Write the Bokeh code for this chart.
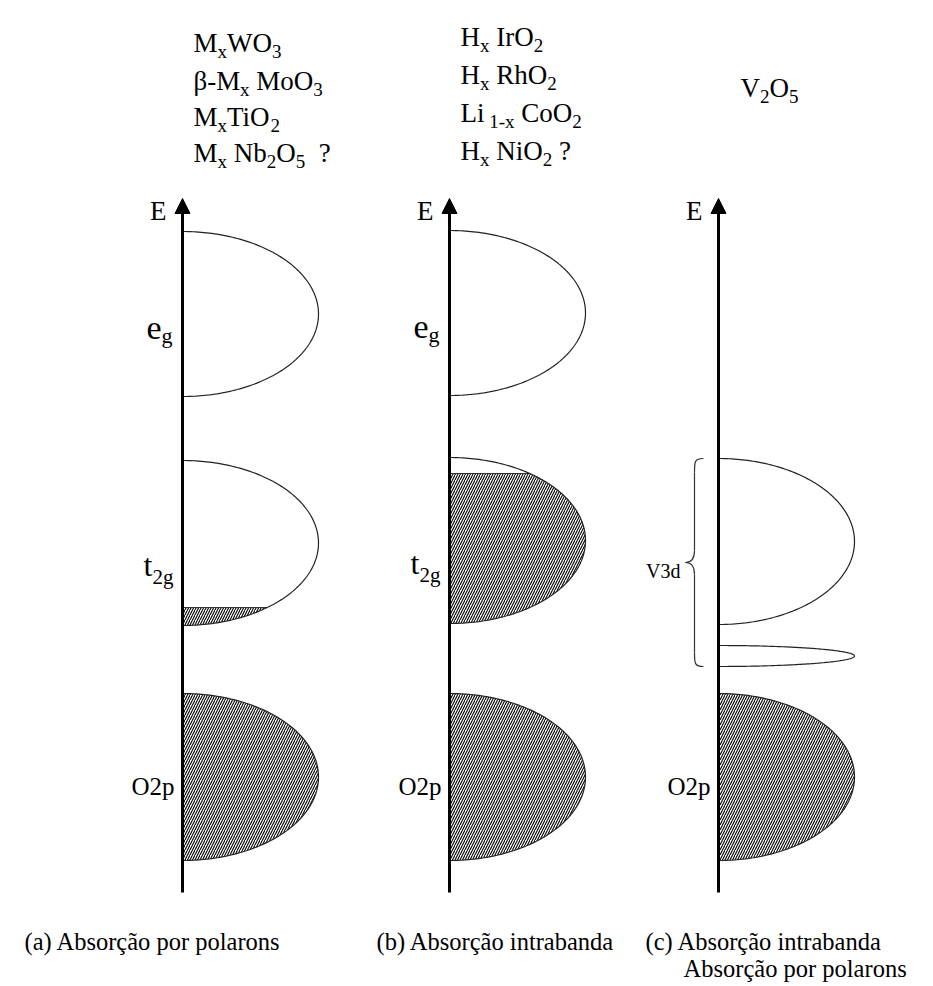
import numpy as np
from bokeh.plotting import figure
from bokeh.models import Range1d, Arrow, NormalHead
from bokeh.core.properties import value
from bokeh.embed import file_html
from bokeh.resources import INLINE

# ---- data: band edges on an energy scale (arbitrary units, up = higher E) ----
panels = ["a", "b", "c"]
axis_x = [182, 449, 718]

# (top, bottom) of each band per panel; None where the band is absent
eg_band = [(755, 590), (756, 591), None]
t2g_band = [(526, 361), (529, 363), (528, 362)]
polaron_band = [None, None, (341, 320)]
o2p_band = [(293, 126), (293, 126), (293, 126)]

# highest occupied level inside the t2g / V3d band (None = empty)
t2g_fill = [379, 513, None]

e_axis_bottom = 94
e_axis_top = 788

formulas = [
    [[("M", 0), ("x", 1), ("WO", 0), ("3", 1)],
     [("\u03b2-M", 0), ("x", 1), (" MoO", 0), ("3", 1)],
     [("M", 0), ("x", 1), ("TiO", 0), ("2", 1)],
     [("M", 0), ("x", 1), (" Nb", 0), ("2", 1), ("O", 0), ("5", 1), ("  ?", 0)]],
    [[("H", 0), ("x", 1), (" IrO", 0), ("2", 1)],
     [("H", 0), ("x", 1), (" RhO", 0), ("2", 1)],
     [("Li", 0), (" 1-x", 1), (" CoO", 0), ("2", 1)],
     [("H", 0), ("x", 1), (" NiO", 0), ("2", 1), (" ?", 0)]],
    [[("V", 0), ("2", 1), ("O", 0), ("5", 1)]],
]

captions = [["(a) Absor\u00e7\u00e3o por polarons"],
            ["(b) Absor\u00e7\u00e3o intrabanda"],
            ["(c) Absor\u00e7\u00e3o intrabanda", "Absor\u00e7\u00e3o por polarons"]]

# ---- styling ----
W, H = 933, 986
FONT = "Liberation Serif"
BAND_W = 136
HATCH = dict(fill_color="white", hatch_pattern="/", hatch_color="black",
             hatch_weight=1.1, hatch_scale=5.0)

# Times-like advance widths (1/1000 em) used to lay out sub-scripted formulas
ADV = {' ': 250, '(': 333, ')': 333, '-': 333, '?': 444, 'A': 722, 'C': 667,
       'E': 611, 'H': 722, 'I': 333, 'L': 611, 'M': 889, 'N': 722, 'O': 722,
       'R': 667, 'T': 611, 'V': 722, 'W': 944, 'a': 444, 'b': 500, 'd': 500,
       'e': 444, 'g': 500, 'h': 500, 'i': 278, 'l': 278, 'n': 500, 'o': 500,
       'p': 500, 'r': 333, 's': 389, 't': 278, 'x': 500, '\u03b2': 500}


def adv(s, size):
    return sum(ADV.get(c, 500) for c in s) * size / 1000.0


p = figure(width=W, height=H, x_range=Range1d(0, W), y_range=Range1d(0, H),
           output_backend="svg", toolbar_location=None, min_border=0)
p.axis.visible = False
p.grid.visible = False
p.outline_line_color = None
p.background_fill_color = "white"
p.border_fill_color = "white"


def put_text(x, y, s, size, align="left"):
    p.text(x=[x], y=[y], text=[s], text_font=value(FONT),
           text_font_size=f"{size}px", text_align=align,
           text_baseline="alphabetic", text_color="black")


def put_formula(x, y, segs, size, sub_size, sub_drop):
    cx = x
    for s, sub in segs:
        sz = sub_size if sub else size
        # leading blanks are collapsed by the renderer, so advance explicitly
        lead = len(s) - len(s.lstrip(" "))
        cx += adv(" " * lead, sz)
        s = s.lstrip(" ")
        put_text(cx, y - sub_drop if sub else y, s, sz)
        cx += adv(s, sz)


def half_ellipse(x0, top, bottom, t0=-np.pi / 2, t1=np.pi / 2, n=160):
    yc = (top + bottom) / 2.0
    h = (top - bottom) / 2.0
    t = np.linspace(t0, t1, n)
    return x0 + BAND_W * np.cos(t), yc + h * np.sin(t)


def band(x0, top, bottom, fill_to=None):
    if fill_to is not None:
        yc = (top + bottom) / 2.0
        h = (top - bottom) / 2.0
        tl = np.arcsin(np.clip((fill_to - yc) / h, -1, 1))
        xs, ys = half_ellipse(x0, top, bottom, -np.pi / 2, tl)
        xs = np.concatenate([xs, [x0, x0]])
        ys = np.concatenate([ys, [fill_to, bottom]])
        p.patch(xs, ys, line_color=None, **HATCH)
        if fill_to < top:
            p.line([x0, xs[-3]], [fill_to, fill_to], line_color="#333333", line_width=1)
    xs, ys = half_ellipse(x0, top, bottom)
    p.line(xs, ys, line_color="#222222", line_width=1.2)


for i, x0 in enumerate(axis_x):
    # bands
    if eg_band[i] is not None:
        band(x0, *eg_band[i])
    band(x0, *t2g_band[i], fill_to=t2g_fill[i])
    if polaron_band[i] is not None:
        band(x0, *polaron_band[i])
    band(x0, *o2p_band[i], fill_to=o2p_band[i][0])

    # energy axis with arrow
    p.add_layout(Arrow(end=NormalHead(size=15, fill_color="black", line_color="black"),
                       x_start=x0, y_start=e_axis_bottom, x_end=x0, y_end=e_axis_top,
                       line_width=3, line_color="black"))
    put_text(x0 - 16, H - 210, "E", 27, align="right")

    # band labels
    if eg_band[i] is not None:
        yl = (eg_band[i][0] + eg_band[i][1]) / 2.0
        put_formula(x0 - 36, yl - 14, [("e", 0), ("g", 1)], 34, 22, 7)
    if i < 2:
        yl = (t2g_band[i][0] + t2g_band[i][1]) / 2.0
        put_formula(x0 - 39, yl - 22, [("t", 0), ("2g", 1)], 32, 21, 12)
    yl = (o2p_band[i][0] + o2p_band[i][1]) / 2.0
    put_text(x0 - 8, yl - 9, "O2p", 25, align="right")

    # compound formulas above each panel
    rows = formulas[i]
    if i < 2:
        base = [H - 42, H - 80, H - 116, H - 152] if i == 0 else [H - 36, H - 74, H - 112, H - 150]
        for r, segs in enumerate(rows):
            put_formula(x0 + 11, base[r], segs, 27, 19, 9)
    else:
        put_formula(x0 + 22, H - 87, rows[0], 27, 19, 9)

# V3d brace spanning the t2g band and the polaron band in panel (c)
xc = axis_x[2]
top, bot = t2g_band[2][0], polaron_band[2][1]
mid = (top + bot) / 2.0
xe, xv, xt = xc - 15, xc - 24, xc - 33
p.bezier(x0=[xe, xv, xv, xt, xv, xv], y0=[top, top - 14, mid + 12, mid, mid - 12, bot + 14],
         x1=[xv, xv, xt, xv, xv, xe], y1=[top - 14, mid + 12, mid, mid - 12, bot + 14, bot],
         cx0=[xv, xv, xv, xt + 5, xv, xv], cy0=[top, top - 14, mid + 3, mid, mid - 12, bot + 3],
         cx1=[xv, xv, xt + 5, xv, xv, xv], cy1=[top - 3, mid + 12, mid, mid - 3, bot + 14, bot],
         line_color="#333333", line_width=1.2)
put_text(xc - 38, mid - 8, "V3d", 20, align="right")

# captions
cap_x = [24, 376, 645]
cap_size = 24.5
for i, lines in enumerate(captions):
    for k, s in enumerate(lines):
        put_text(cap_x[i] + (38 if k else 0), H - 941 - 27 * k, s, cap_size)

open("out.html", "w").write(file_html(p, INLINE))
